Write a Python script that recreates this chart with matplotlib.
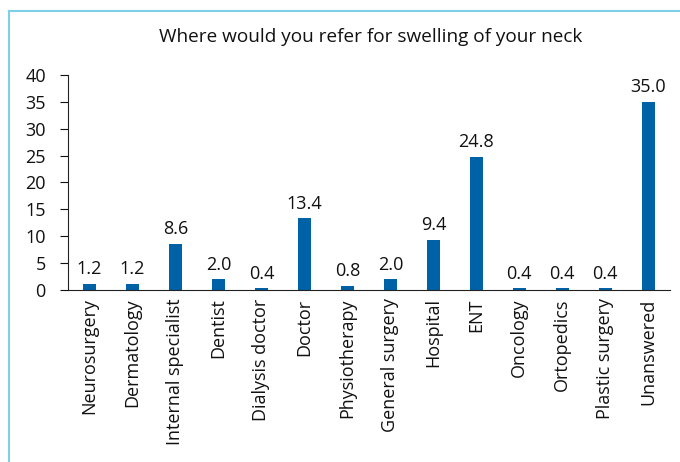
import matplotlib.pyplot as plt
from matplotlib.lines import Line2D

# --- data ---
categories = ['Neurosurgery', 'Dermatology', 'Internal specialist', 'Dentist',
              'Dialysis doctor', 'Doctor', 'Physiotherapy', 'General surgery',
              'Hospital', 'ENT', 'Oncology', 'Ortopedics', 'Plastic surgery',
              'Unanswered']
percent = [1.2, 1.2, 8.6, 2.0, 0.4, 13.4, 0.8, 2.0, 9.4, 24.8, 0.4, 0.4, 0.4, 35.0]
yticks = [0, 5, 10, 15, 20, 25, 30, 35, 40]

plt.rcParams['font.family'] = ['Open Sans', 'DejaVu Sans']

fig = plt.figure(figsize=(6.8, 4.62), dpi=100)
ax = fig.add_axes([0.1, 0.372, 0.885, 0.466])

x = range(len(categories))
bars = ax.bar(x, percent, width=0.3, color='#0062a6')
for xi, v in zip(x, percent):
    ax.text(xi, v + 1.0, f'{v:.1f}', ha='center', va='bottom', fontsize=13, color='#111111')

ax.set_xlim(-0.5, len(categories) - 0.5)
ax.set_ylim(0, 40)
ax.set_yticks(yticks)
ax.set_yticklabels([str(t) for t in yticks], fontsize=13)
ax.set_xticks(list(x))
ax.set_xticklabels(categories, rotation=90, fontsize=13, color='#111111')
ax.tick_params(axis='x', length=0, pad=6)
ax.tick_params(axis='y', length=6, direction='out', pad=10, colors='#111111')
for s in ['top', 'right']:
    ax.spines[s].set_visible(False)
ax.spines['left'].set_color('#222222')
ax.spines['bottom'].set_color('#222222')

fig.text(0.545, 0.92, 'Where would you refer for swelling of your neck',
         ha='center', va='center', fontsize=13.7, color='#111111')

# light blue frame (left and top edges)
fig.add_artist(Line2D([9 / 680, 9 / 680], [0, 1 - 11 / 462], color='#7fcfe6', lw=1.5))
fig.add_artist(Line2D([9 / 680, 1], [1 - 11 / 462, 1 - 11 / 462], color='#7fcfe6', lw=1.5))

plt.savefig('out.png', dpi=100)
